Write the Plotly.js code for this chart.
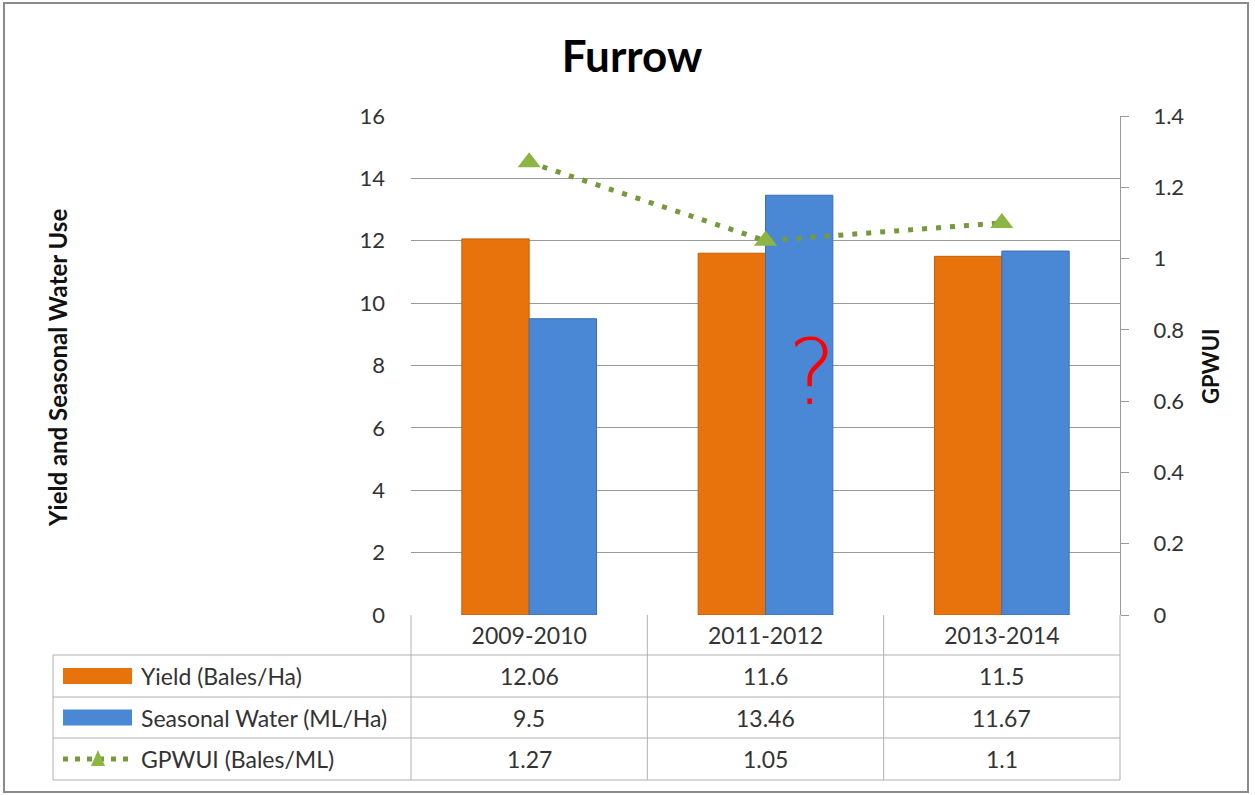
<!DOCTYPE html>
<html>
<head>
<meta charset="utf-8">
<script src="https://cdn.plot.ly/plotly-3.0.1.min.js"></script>
<style>html,body{margin:0;padding:0;background:#fff;}#chart{width:1255px;height:795px;}</style>
</head>
<body>
<div id="chart"></div>
<script>
// ---- data ----
const categories = ['2009-2010', '2011-2012', '2013-2014'];
const yieldVals = [12.06, 11.6, 11.5];
const waterVals = [9.5, 13.46, 11.67];
const gpwuiVals = [1.27, 1.05, 1.1];
const seriesNames = ['Yield (Bales/Ha)', 'Seasonal Water (ML/Ha)', 'GPWUI (Bales/ML)'];
const leftTicks = [0, 2, 4, 6, 8, 10, 12, 14, 16];
const rightTicks = [0, 0.2, 0.4, 0.6, 0.8, 1, 1.2, 1.4];

// ---- styling / geometry ----
const W = 1255, H = 795;
const L = 411, R = 1120, T = 116, B = 615;
const px = v => (v - L) / (R - L);
const py = v => (B - v) / (B - T);
const FONT = 'Lato, "Open Sans", sans-serif';
const ORANGE = '#E8720C', BLUE = '#4A88D6', GREEN = '#8CB544', DOT = '#76993A';
const GRID = '#9a9a9a', TXT = '#333333', TBL = '#b0b0b0';
const FS = 22, TFS = 23;

const traces = [
  {type: 'bar', x: categories, y: yieldVals, name: seriesNames[0],
   marker: {color: ORANGE, line: {color: '#c55f08', width: 1}}},
  {type: 'bar', x: categories, y: waterVals, name: seriesNames[1],
   marker: {color: BLUE, line: {color: '#3a6fb3', width: 1}}},
  {type: 'scatter', mode: 'lines+markers', x: categories, y: gpwuiVals, yaxis: 'y2',
   name: seriesNames[2],
   line: {color: DOT, width: 5, dash: '5px,9px'},
   marker: {symbol: 'triangle-up', size: 20, color: GREEN}}
];

// table geometry
const rowBounds = [655, 697, 738, 780];
const tblLeft = 53;
const catCenters = categories.map((c, i) => L + (R - L) * (i + 0.5) / categories.length);
const colBounds = categories.map((c, i) => L + (R - L) * i / categories.length).concat([R]);

const shapes = [];
const annotations = [];
const line = (x0, y0, x1, y1, color, width) => shapes.push({
  type: 'line', xref: 'paper', yref: 'paper', x0: px(x0), y0: py(y0), x1: px(x1), y1: py(y1),
  line: {color: color, width: width}, layer: 'above'});

// outer frame
shapes.push({type: 'rect', xref: 'paper', yref: 'paper', x0: px(4), y0: py(3), x1: px(1248), y1: py(792),
  line: {color: '#8a8a8a', width: 2}, fillcolor: 'rgba(0,0,0,0)'});

// table horizontal lines
rowBounds.forEach(yv => line(tblLeft, yv, R, yv, TBL, 1));
// table vertical lines
line(tblLeft, rowBounds[0], tblLeft, rowBounds[3], TBL, 1);
colBounds.forEach(xv => line(xv, B, xv, rowBounds[3], TBL, 1));

// table rows
const rowVals = [yieldVals, waterVals, gpwuiVals];
rowVals.forEach((vals, r) => {
  const yc = (rowBounds[r] + rowBounds[r + 1]) / 2;
  annotations.push({xref: 'paper', yref: 'paper', x: px(139), y: py(yc), xanchor: 'left', yanchor: 'middle',
    text: seriesNames[r], showarrow: false, font: {family: FONT, size: TFS, color: TXT}});
  vals.forEach((v, i) => annotations.push({xref: 'paper', yref: 'paper', x: px(catCenters[i]), y: py(yc),
    xanchor: 'center', yanchor: 'middle', text: String(v), showarrow: false,
    font: {family: FONT, size: TFS, color: TXT}}));
});
// legend keys
[ORANGE, BLUE].forEach((c, r) => {
  const yc = (rowBounds[r] + rowBounds[r + 1]) / 2;
  shapes.push({type: 'rect', xref: 'paper', yref: 'paper', x0: px(63), x1: px(132), y0: py(yc - 8), y1: py(yc + 8),
    fillcolor: c, line: {width: 0}, layer: 'above'});
});
{
  const yc = (rowBounds[2] + rowBounds[3]) / 2;
  shapes.push({type: 'line', xref: 'paper', yref: 'paper', x0: px(63), x1: px(132), y0: py(yc), y1: py(yc),
    line: {color: DOT, width: 5, dash: '5px,7px'}, layer: 'above'});
  shapes.push({type: 'path', xref: 'paper', yref: 'paper', layer: 'above',
    path: `M ${px(91)},${py(yc + 7)} L ${px(105)},${py(yc + 7)} L ${px(98)},${py(yc - 9)} Z`,
    fillcolor: GREEN, line: {width: 0}});
}

// axis titles
annotations.push({xref: 'paper', yref: 'paper', x: px(57), y: py(368), text: '<b>Yield and Seasonal Water Use</b>',
  textangle: -90, showarrow: false, xanchor: 'center', yanchor: 'middle', font: {family: FONT, size: 24, color: '#111'}});
annotations.push({xref: 'paper', yref: 'paper', x: px(1210), y: py(366), text: '<b>GPWUI</b>',
  textangle: -90, showarrow: false, xanchor: 'center', yanchor: 'middle', font: {family: FONT, size: 22, color: '#111'}});
// red question mark
annotations.push({xref: 'paper', yref: 'paper', x: px(812), y: py(372), text: '?', showarrow: false,
  xanchor: 'center', yanchor: 'middle', font: {family: '"DejaVu Sans", sans-serif', size: 90, weight: 200, color: '#ff0000'}});

const layout = {
  width: W, height: H,
  margin: {l: L, r: W - R, t: T, b: H - B, pad: 0},
  paper_bgcolor: '#ffffff', plot_bgcolor: '#ffffff',
  showlegend: false,
  barmode: 'group', bargap: 0.43, bargroupgap: 0,
  title: {text: '<b>Furrow</b>', x: 632 / W, xanchor: 'center', y: 1 - 57 / H, yanchor: 'middle',
    font: {family: FONT, size: 44, color: '#000'}},
  xaxis: {type: 'category', showgrid: false, zeroline: false, showline: false, ticks: '',
    tickfont: {family: FONT, size: TFS, color: TXT}, ticklabelstandoff: 5, fixedrange: true},
  yaxis: {range: [0, 16], tickvals: leftTicks, showgrid: true, gridcolor: GRID, gridwidth: 1, zeroline: false,
    showline: false, ticks: '', ticklabelstandoff: 25, tickfont: {family: FONT, size: FS, color: TXT}, fixedrange: true},
  yaxis2: {range: [0, 1.4], tickvals: rightTicks, overlaying: 'y', side: 'right', showgrid: false, zeroline: false,
    showline: true, linecolor: GRID, linewidth: 1, ticks: 'outside', ticklen: 8, tickcolor: GRID,
    ticklabelstandoff: 20, tickfont: {family: FONT, size: FS, color: TXT}, fixedrange: true},
  shapes: shapes,
  annotations: annotations
};

Plotly.newPlot('chart', traces, layout, {displayModeBar: false, staticPlot: true});
</script>
</body>
</html>
